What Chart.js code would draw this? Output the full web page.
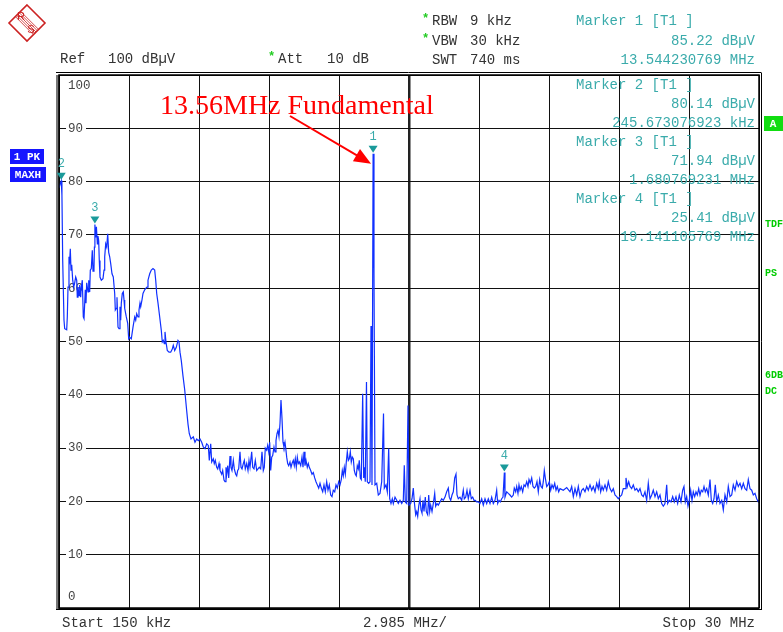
<!DOCTYPE html>
<html><head><meta charset="utf-8">
<script src="https://cdn.jsdelivr.net/npm/chart.js@4.4.1/dist/chart.umd.min.js"></script>
<style>html,body{margin:0;padding:0;background:#fff;overflow:hidden}#wrap{width:783px;height:632px;position:relative}</style>
</head><body><div id="wrap"><canvas id="c" width="783" height="632"></canvas></div>
<script>
// Trace readings: [frequency MHz, level dBuV]
const traceLowBand = [[0.150,78.8],[0.200,79.6],[0.246,80.14],[0.275,77.5],[0.308,65.2],[0.363,54.0],[0.393,52.4],[0.478,52.2],[0.504,54.6],[0.534,60.2],[0.576,65.9],[0.606,65.2],[0.632,67.4],[0.662,63.4],[0.692,64.4],[0.734,61.5],[0.777,60.2],[0.819,61.0],[0.862,62.1],[0.905,61.5],[0.930,58.3],[0.960,60.2],[1.003,58.6],[1.033,60.6],[1.075,58.3],[1.101,60.2],[1.144,61.5],[1.186,54.6],[1.216,54.3],[1.246,57.2],[1.271,59.7],[1.301,57.2],[1.331,61.0],[1.357,60.2],[1.387,59.3],[1.417,61.5],[1.459,59.3],[1.485,63.4],[1.527,63.7],[1.570,67.1],[1.600,63.2],[1.642,63.7],[1.660,67.7],[1.681,71.94],[1.715,69.5],[1.745,71.5],[1.786,68.3],[1.813,69.8],[1.843,68.9],[1.868,65.2],[1.898,62.1],[1.954,61.5],[2.026,61.8],[2.069,63.4],[2.099,65.9],[2.141,68.3],[2.184,67.7],[2.227,70.2],[2.269,66.7],[2.312,65.9],[2.355,64.6],[2.410,62.7],[2.465,62.1],[2.525,59.0],[2.551,55.9],[2.593,56.2],[2.623,58.3],[2.666,52.7],[2.709,52.4],[2.751,56.5],[2.781,54.0],[2.807,57.2],[2.849,59.0],[2.892,59.3],[2.922,57.8],[2.952,56.2],[3.020,54.6],[3.080,53.4],[3.122,50.5],[3.165,50.8],[3.233,50.5],[3.306,52.7],[3.378,54.6],[3.421,54.0],[3.463,55.2],[3.519,54.6],[3.561,55.9],[3.604,57.2],[3.634,56.5],[3.689,57.8],[3.732,59.0],[3.804,59.7],[3.860,60.0],[3.903,60.2],[3.945,61.5],[4.018,62.7],[4.086,63.4],[4.158,63.7],[4.231,63.4],[4.274,61.5],[4.316,59.0],[4.372,57.2],[4.444,54.6],[4.512,52.1],[4.555,49.9],[4.598,50.2],[4.640,49.6],[4.670,51.8],[4.713,49.9],[4.768,48.3],[4.841,48.0],[4.913,48.0],[4.981,48.6],[5.024,49.3],[5.084,48.3],[5.152,48.9],[5.224,50.2],[5.267,49.9],[5.310,48.0],[5.365,46.4],[5.438,43.5],[5.509,41.0]];
const traceMidBand = [[5.595,37.0],[5.651,34.5],[5.706,32.7],[5.779,31.7],[5.877,32.1],[5.949,31.1],[6.022,31.7],[6.090,31.4],[6.163,31.7],[6.235,31.1],[6.303,30.2],[6.376,29.9],[6.448,30.8],[6.516,30.5],[6.559,27.7],[6.619,30.8],[6.662,27.4],[6.730,28.0],[6.772,27.1],[6.815,27.7],[6.875,26.4],[6.917,26.1],[6.973,27.1],[7.015,25.8],[7.088,25.1],[7.130,25.8],[7.186,24.0],[7.229,23.7],[7.271,26.4],[7.301,25.1],[7.344,26.7],[7.386,24.4],[7.442,28.5],[7.484,26.4],[7.527,25.8],[7.583,27.7],[7.625,26.1],[7.685,25.1],[7.728,24.8],[7.770,25.8],[7.813,26.1],[7.868,29.3],[7.911,26.4],[7.954,26.1],[8.009,27.1],[8.052,27.7],[8.094,26.1],[8.154,27.1],[8.209,25.8],[8.252,27.7],[8.295,26.4],[8.367,29.3],[8.410,26.4],[8.465,26.1],[8.521,27.7],[8.581,25.8],[8.636,26.1],[8.691,26.4],[8.751,26.1],[8.806,29.3],[8.862,25.8],[8.904,26.4],[8.947,30.0],[9.007,29.6],[9.049,30.5],[9.092,29.3],[9.135,31.1],[9.177,25.8],[9.220,28.3],[9.262,28.6],[9.318,30.2],[9.361,29.3],[9.403,31.4],[9.446,32.7],[9.488,33.3],[9.531,32.1],[9.574,34.6],[9.616,39.0],[9.659,35.6],[9.702,31.1],[9.744,30.2],[9.787,31.1],[9.829,29.6],[9.859,28.3],[9.902,27.1],[9.945,26.7],[10.000,27.4],[10.043,26.4],[10.086,27.1],[10.141,27.7],[10.184,26.7],[10.226,28.0],[10.269,26.4],[10.312,28.3],[10.354,27.1],[10.397,27.4],[10.457,26.7],[10.512,28.3],[10.555,26.4],[10.598,29.3],[10.640,26.7],[10.683,27.7],[10.738,26.4],[10.781,27.1],[10.824,26.4],[10.883,25.8],[10.939,25.1],[10.994,25.4],[11.054,24.4],[11.109,23.7],[11.165,23.1],[11.224,22.5],[11.280,23.4],[11.335,22.5],[11.395,21.8],[11.450,23.1],[11.506,21.8],[11.565,23.7],[11.621,22.1],[11.676,23.1],[11.736,21.2],[11.791,20.9],[11.847,22.1],[11.907,21.8],[11.962,23.1],[12.017,22.5],[12.077,23.7],[12.133,23.1],[12.188,24.1],[12.231,25.8],[12.273,24.8],[12.316,26.4],[12.359,25.1],[12.401,27.4],[12.444,29.3],[12.487,27.7],[12.529,28.0],[12.572,29.3],[12.614,27.4],[12.657,28.3],[12.700,28.0],[12.742,25.8],[12.785,25.1],[12.827,24.8],[12.870,26.7],[12.913,26.1],[12.955,27.7],[12.998,24.4],[13.041,24.1]];
const traceFundamental = [[13.100,40.2],[13.143,24.4],[13.168,26.4],[13.211,23.7],[13.262,42.4],[13.297,23.7],[13.356,23.4],[13.412,23.7],[13.455,52.9],[13.497,23.1],[13.544,85.22],[13.582,62.7],[13.625,23.1],[13.698,23.4],[13.766,21.2],[13.838,21.5],[13.911,23.7],[13.988,36.5],[14.022,22.5],[14.094,23.1],[14.150,21.8],[14.209,29.9],[14.252,20.5],[14.307,19.6],[14.363,20.5],[14.406,19.6],[14.478,20.8],[14.550,20.2],[14.619,19.6],[14.691,20.2],[14.763,19.6],[14.832,20.2],[14.874,26.8],[14.917,19.9],[14.977,19.6],[15.032,38.0],[15.075,19.3],[15.147,19.6],[15.203,20.5],[15.258,22.5],[15.301,19.9],[15.361,17.5],[15.403,18.1],[15.446,17.2],[15.489,19.1],[15.544,20.5],[15.587,18.4],[15.629,17.8],[15.672,20.2],[15.715,18.1],[15.770,20.8],[15.813,18.1],[15.872,17.5],[15.915,21.2],[15.958,18.1],[16.000,19.3],[16.056,18.1],[16.111,19.6],[16.171,21.5],[16.213,19.1],[16.269,19.6],[16.324,19.3],[16.397,19.9],[16.469,20.5],[16.538,20.2],[16.610,20.8],[16.682,21.8],[16.751,22.5],[16.793,20.8],[16.853,20.2],[16.909,21.2],[16.964,21.8],[17.024,24.4],[17.079,25.1],[17.122,21.2],[17.177,20.5],[17.250,20.8],[17.322,20.2],[17.390,22.1],[17.433,20.5],[17.493,20.8],[17.548,22.1],[17.604,20.5],[17.676,22.1],[17.731,20.5],[17.791,20.8],[17.847,20.2],[17.902,20.2],[17.962,19.9],[18.030,19.9],[18.102,19.6],[18.175,20.5],[18.243,19.3],[18.316,20.5],[18.388,19.6],[18.456,20.5],[18.529,19.6],[18.601,20.8],[18.670,19.6],[18.742,20.2],[18.814,22.1],[18.857,19.6],[18.913,20.2],[18.968,19.9],[19.028,20.5],[19.083,20.8]];
const traceHighBand = [[19.141,25.41],[19.168,20.8],[19.241,21.8],[19.309,21.5],[19.381,21.2],[19.453,20.8],[19.522,21.2],[19.564,22.5],[19.624,21.8],[19.667,22.8],[19.722,21.5],[19.765,23.1],[19.808,22.1],[19.863,22.8],[19.923,21.8],[19.979,23.1],[20.034,22.8],[20.094,23.7],[20.149,22.8],[20.192,24.1],[20.247,23.4],[20.307,24.4],[20.363,22.8],[20.418,22.5],[20.478,22.8],[20.533,23.7],[20.589,21.8],[20.649,24.1],[20.704,22.8],[20.759,22.5],[20.802,23.7],[20.845,25.8],[20.887,24.4],[20.947,22.8],[21.003,23.1],[21.058,23.7],[21.118,22.1],[21.173,23.1],[21.229,22.5],[21.288,23.4],[21.344,22.1],[21.399,22.8],[21.459,21.8],[21.515,22.4],[21.655,22.1],[21.800,22.6],[21.941,21.8],[22.013,22.8],[22.082,20.9],[22.154,22.4],[22.226,21.2],[22.295,22.8],[22.367,20.9],[22.440,22.1],[22.508,22.4],[22.580,21.8],[22.653,22.8],[22.721,22.1],[22.793,23.1],[22.866,22.1],[22.934,22.8],[23.006,21.8],[23.079,23.4],[23.147,22.4],[23.190,23.7],[23.249,21.8],[23.305,22.8],[23.360,22.1],[23.433,23.1],[23.505,22.1],[23.574,23.7],[23.646,22.4],[23.718,21.8],[23.787,22.4],[23.859,21.2],[23.932,20.9],[24.000,20.5],[24.072,20.9],[24.145,21.2],[24.213,22.4],[24.286,22.4],[24.328,24.4],[24.384,22.8],[24.444,23.7],[24.499,22.8],[24.571,22.4],[24.640,23.1],[24.712,22.1],[24.784,22.4],[24.853,21.8],[24.925,22.4],[24.998,21.2],[25.066,20.9],[25.138,21.8],[25.211,20.2],[25.279,23.4],[25.352,20.5],[25.424,21.2],[25.492,22.1],[25.565,20.9],[25.637,21.8],[25.706,20.5],[25.778,21.2],[25.850,19.6],[25.919,19.1],[25.991,19.6],[26.064,23.1],[26.106,19.6],[26.174,20.2],[26.247,19.9],[26.319,20.9],[26.387,19.9],[26.460,20.9],[26.532,19.6],[26.601,21.2],[26.673,19.9],[26.745,22.1],[26.801,22.8],[26.857,19.9],[26.916,20.9],[26.972,19.1],[27.027,20.2],[27.087,22.1],[27.143,20.2],[27.198,21.8],[27.258,20.9],[27.313,21.8],[27.369,21.2],[27.429,22.4],[27.484,21.2],[27.539,22.1],[27.599,21.8],[27.655,22.8],[27.710,21.8],[27.770,22.4],[27.838,21.2],[27.911,24.1],[27.966,20.2],[28.026,19.6],[28.081,20.5],[28.137,23.1],[28.197,19.9],[28.265,21.2],[28.337,19.6],[28.410,20.2],[28.478,18.4],[28.550,21.2],[28.623,19.9],[28.691,22.8],[28.764,20.9],[28.836,21.2],[28.904,23.1],[28.977,22.1],[29.049,23.7],[29.117,22.8],[29.190,23.4],[29.262,22.4],[29.331,23.4],[29.403,22.4],[29.475,22.1],[29.544,24.1],[29.616,22.4],[29.689,22.1],[29.757,21.2],[29.829,21.5],[29.902,20.5],[29.970,19.9],[30.000,20.2]];

const markerIds = ['1','2','3','4'];
const markerFreqMHz = [13.544230769, 0.245673077, 1.680769231, 19.141105769];
const markerLevel = [85.22, 80.14, 71.94, 25.41];
const markerLevelText = ['85.22 dBµV','80.14 dBµV','71.94 dBµV','25.41 dBµV'];
const markerFreqText = ['13.544230769 MHz','245.673076923 kHz','1.680769231 MHz','19.141105769 MHz'];

const yTicks = [0,10,20,30,40,50,60,70,80,90,100];
const yTickLabels = ['0','10','20','30','40','50','60','70','80','90','100'];
const xTicks = [0.15,3.135,6.12,9.105,12.09,15.075,18.06,21.045,24.03,27.015,30];

const annotationText = '13.56MHz Fundamental';
const annotationFreq = 13.544;   // arrow points at marker 1

const MONO = '"Liberation Mono","DejaVu Sans Mono",monospace';
const TEAL = '#3aabab';
const TEXT = '#333333';

const trace = [].concat(traceLowBand, traceMidBand, traceFundamental, traceHighBand).map(p => ({x:p[0], y:p[1]}));

function t(ctx, s, x, y, color, font, align){
  ctx.fillStyle = color; ctx.font = font; ctx.textAlign = align || 'left'; ctx.textBaseline = 'middle';
  ctx.fillText(s, x, y);
}

const decor = {
  id:'decor',
  beforeDraw(chart){
    const ctx = chart.ctx;
    ctx.save();
    ctx.fillStyle = '#fff'; ctx.fillRect(0,0,chart.width,chart.height);
    // R&S logo
    ctx.strokeStyle = '#cc2222'; ctx.lineWidth = 1.6;
    ctx.beginPath(); ctx.moveTo(27,5); ctx.lineTo(45,23); ctx.lineTo(27,41); ctx.lineTo(9,23); ctx.closePath(); ctx.stroke();
    ctx.lineWidth = 0.8;
    for (let k=-2;k<=2;k++){
      const o = k*1.3;
      ctx.beginPath(); ctx.moveTo(18+o, 14-o); ctx.lineTo(36+o, 32-o); ctx.stroke();
    }
    t(ctx,'R',21,17,'#cc2222','11px "Liberation Sans",sans-serif','center');
    t(ctx,'S',31,30,'#cc2222','11px "Liberation Sans",sans-serif','center');
    // header
    const f = '14px ' + MONO;
    t(ctx,'Ref',60,59,TEXT,f);
    t(ctx,'100 dBµV',108,59,TEXT,f);
    t(ctx,'*',268,57,'#22cc22','bold 12px '+MONO);
    t(ctx,'Att',278,59,TEXT,f);
    t(ctx,'10 dB',327,59,TEXT,f);
    t(ctx,'*',422,19,'#22cc22','bold 12px '+MONO);
    t(ctx,'RBW',432,21,TEXT,f); t(ctx,'9 kHz',470,21,TEXT,f);
    t(ctx,'*',422,39,'#22cc22','bold 12px '+MONO);
    t(ctx,'VBW',432,41,TEXT,f); t(ctx,'30 kHz',470,41,TEXT,f);
    t(ctx,'SWT',432,60,TEXT,f); t(ctx,'740 ms',470,60,TEXT,f);
    // footer
    t(ctx,'Start 150 kHz',62,623,TEXT,f);
    t(ctx,'2.985 MHz/',363,623,TEXT,f);
    t(ctx,'Stop 30 MHz',755,623,TEXT,f,'right');
    // left boxes
    ctx.fillStyle = '#1515ff'; ctx.fillRect(10,149,34,15); ctx.fillRect(10,167,36,15);
    t(ctx,'1 PK',27,157,'#fff','bold 11px '+MONO,'center');
    t(ctx,'MAXH',28,175,'#fff','bold 11px '+MONO,'center');
    // right side
    ctx.fillStyle = '#11dd11'; ctx.fillRect(764,116,19,15);
    t(ctx,'A',773,124,'#fff','bold 11px '+MONO,'center');
    const g = 'bold 10px ' + MONO;
    t(ctx,'TDF',765,224,'#00cc00',g);
    t(ctx,'PS',765,273,'#00cc00',g);
    t(ctx,'6DB',765,375,'#00cc00',g);
    t(ctx,'DC',765,391,'#00cc00',g);
    ctx.restore();
  },
  beforeDatasetsDraw(chart){
    const ctx = chart.ctx, ys = chart.scales.y;
    ctx.save();
    ctx.font = '12.5px ' + MONO;
    yTicks.forEach((v,i)=>{
      let py = ys.getPixelForValue(v);
      if (v === 100) py += 11; else if (v === 0) py -= 11;
      const s = yTickLabels[i];
      const w = ctx.measureText(s).width;
      if (v !== 100 && v !== 0){ ctx.fillStyle='#fff'; ctx.fillRect(66,py-6,w+5,12); }
      t(ctx,s,68,py,'#444',ctx.font);
    });
    ctx.restore();
  },
  afterDatasetsDraw(chart){
    const ctx = chart.ctx, a = chart.chartArea, xs = chart.scales.x, ys = chart.scales.y;
    ctx.save();
    // frame
    ctx.fillStyle = '#777'; ctx.fillRect(a.left-3, a.top, 3, a.bottom-a.top+2);
    ctx.strokeStyle = '#000'; ctx.lineWidth = 1.5;
    ctx.strokeRect(a.left, a.top, a.right-a.left, a.bottom-a.top);
    ctx.lineWidth = 1;
    ctx.beginPath(); ctx.moveTo(a.left-3, a.top-2.5); ctx.lineTo(a.right+2, a.top-2.5); ctx.stroke();
    ctx.beginPath(); ctx.moveTo(a.right+2.5, a.top-2.5); ctx.lineTo(a.right+2.5, a.bottom+2); ctx.stroke();
    ctx.beginPath(); ctx.moveTo(a.left-3, a.bottom+1.5); ctx.lineTo(a.right+2.5, a.bottom+1.5); ctx.stroke();
    // markers
    markerIds.forEach((id,i)=>{
      const px = xs.getPixelForValue(markerFreqMHz[i]);
      const py = ys.getPixelForValue(markerLevel[i]);
      ctx.fillStyle = '#1a9a9a';
      ctx.beginPath(); ctx.moveTo(px, py-1); ctx.lineTo(px-4.5, py-8); ctx.lineTo(px+4.5, py-8); ctx.closePath(); ctx.fill();
      t(ctx,id,px,py-17,TEAL,'12px '+MONO,'center');
    });
    // marker readouts
    const f = '14px ' + MONO;
    const rows = [[21,41,60],[85,104,123],[142,161,180],[199,218,237]];
    markerIds.forEach((id,i)=>{
      t(ctx,'Marker '+id+' [T1 ]',576,rows[i][0],TEAL,f);
      t(ctx,markerLevelText[i],755,rows[i][1],TEAL,f,'right');
      t(ctx,markerFreqText[i],755,rows[i][2],TEAL,f,'right');
    });
    // annotation
    ctx.fillStyle = '#ff0000'; ctx.font = '28px "Liberation Serif","Times New Roman",serif';
    ctx.textAlign = 'left'; ctx.textBaseline = 'alphabetic';
    ctx.fillText(annotationText, 160, 114);
    const tipX = xs.getPixelForValue(annotationFreq) - 2;
    const tipY = ys.getPixelForValue(markerLevel[0]) + 10;
    const sx = 290, sy = 116;
    const dx = tipX-sx, dy = tipY-sy, L = Math.hypot(dx,dy), ux = dx/L, uy = dy/L;
    const hl = 17, hw = 7, bx = tipX-ux*hl, by = tipY-uy*hl;
    ctx.strokeStyle = '#ff0000'; ctx.lineWidth = 2;
    ctx.beginPath(); ctx.moveTo(sx,sy); ctx.lineTo(bx+ux*2,by+uy*2); ctx.stroke();
    ctx.beginPath(); ctx.moveTo(tipX,tipY); ctx.lineTo(bx-uy*hw,by+ux*hw); ctx.lineTo(bx+uy*hw,by-ux*hw); ctx.closePath(); ctx.fill();
    ctx.restore();
  }
};

new Chart(document.getElementById('c'), {
  type:'line',
  data:{datasets:[{data:trace, borderColor:'#1030ff', borderWidth:1.2, pointRadius:0, tension:0, fill:false}]},
  options:{
    responsive:false, animation:false, devicePixelRatio:1,
    layout:{padding:{left:59,right:24,top:75,bottom:24}},
    plugins:{legend:{display:false}, tooltip:{enabled:false}},
    scales:{
      x:{type:'linear', min:0.15, max:30,
         afterBuildTicks:s=>{s.ticks = xTicks.map(v=>({value:v}));},
         afterFit:s=>{s.height=0;},
         ticks:{display:false}, border:{display:false},
         grid:{drawTicks:false, color:(c)=> c.index===5 ? '#222' : '#111', lineWidth:(c)=> c.index===5 ? 2.5 : 1}},
      y:{min:0, max:100,
         afterBuildTicks:s=>{s.ticks = yTicks.map(v=>({value:v}));},
         afterFit:s=>{s.width=0;},
         ticks:{display:false}, border:{display:false},
         grid:{drawTicks:false, color:'#111', lineWidth:1}}
    }
  },
  plugins:[decor]
});
</script>
</body></html>
